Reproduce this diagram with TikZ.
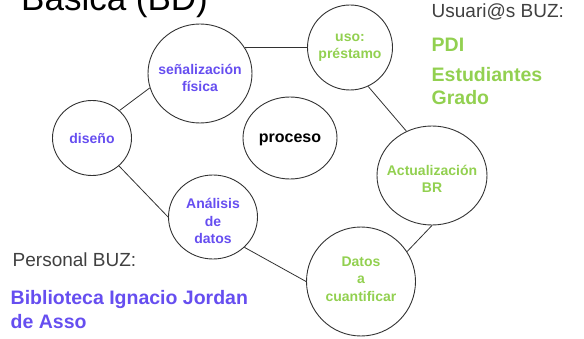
\documentclass[tikz,border=0pt]{standalone}
\usepackage{fontspec}
\setmainfont{Liberation Sans}
\usetikzlibrary{shapes.geometric}
\definecolor{purp}{RGB}{102,78,240}
\definecolor{grn}{RGB}{146,208,80}
\definecolor{gry}{RGB}{64,64,64}
\definecolor{edge}{RGB}{50,50,50}
\tikzset{
  bub/.style={ellipse, draw=edge, line width=0.9pt, inner sep=0pt},
  btxt/.style={inner sep=0pt, align=center, font=\fontsize{14}{17.5}\selectfont\bfseries},
  conn/.style={draw=edge, line width=0.8pt},
  lbl/.style={inner sep=0pt, anchor=base west},
}
\begin{document}
\begin{tikzpicture}[x=1pt,y=-1pt]
\useasboundingbox (0,0) rectangle (584,339);
% title
\node[lbl, font=\fontsize{35}{40}\selectfont] (title) at (21,11) {Básica (BD)};
% bubbles
\node[bub, minimum width=104pt, minimum height=99pt] (sen) at (200,73.5) {};
\node[btxt, text=purp] (senT) at ([yshift=-4.5pt]sen.center) {señalización\\física};
\node[bub, minimum width=79pt, minimum height=75pt] (dis) at (92,138) {};
\node[btxt, text=purp] (disT) at (dis.center) {diseño};
\node[bub, minimum width=94pt, minimum height=82pt] (pro) at (290,138) {};
\node[btxt, text=black, font=\fontsize{16}{19}\selectfont\bfseries] (proT) at ([yshift=-2pt]pro.center) {proceso};
\node[bub, minimum width=85pt, minimum height=85pt] (uso) at (350,47.5) {};
\node[btxt, text=grn] (usoT) at (uso.center) {uso:\\préstamo};
\node[bub, minimum width=110pt, minimum height=99pt] (act) at (432,175.5) {};
\node[btxt, text=grn] (actT) at ([yshift=-3.5pt]act.center) {Actualización\\BR};
\node[bub, minimum width=89pt, minimum height=84pt] (ana) at (213,217) {};
\node[btxt, text=purp] (anaT) at ([yshift=-4pt]ana.center) {Análisis\\de\\datos};
\node[bub, minimum width=109pt, minimum height=109pt] (dat) at (361,281.5) {};
\node[btxt, text=grn] (datT) at ([yshift=2.5pt]dat.center) {Datos\\a\\cuantificar};
% connectors
\draw[conn] (sen.30) -- (uso.180);
\draw[conn] (sen.196) -- (dis.45);
\draw[conn] (dis.-46) -- (ana.180);
\draw[conn] (ana.-44) -- (dat.180);
\draw[conn] (dat.33.5) -- (act.-90);
\draw[conn] (uso.-65) -- (act.120);
% side texts
\node[lbl, text=gry, font=\fontsize{19}{22}\selectfont] (usu) at (431.5,18) {Usuari@s BUZ:};
\node[lbl, text=grn, font=\fontsize{19.5}{23}\selectfont\bfseries] (pdi) at (431.5,52) {PDI};
\node[lbl, text=grn, font=\fontsize{19.5}{23}\selectfont\bfseries] (est) at (431.5,82) {Estudiantes};
\node[lbl, text=grn, font=\fontsize{19.5}{23}\selectfont\bfseries] (gra) at (431.5,104.5) {Grado};
\node[lbl, text=gry, font=\fontsize{19}{22}\selectfont] (per) at (12.5,267) {Personal BUZ:};
\node[lbl, text=purp, font=\fontsize{19.5}{23}\selectfont\bfseries] (bib) at (10.5,305) {Biblioteca Ignacio Jordan};
\node[lbl, text=purp, font=\fontsize{19.5}{23}\selectfont\bfseries] (asso) at (10.5,328) {de Asso};
\end{tikzpicture}
\end{document}
